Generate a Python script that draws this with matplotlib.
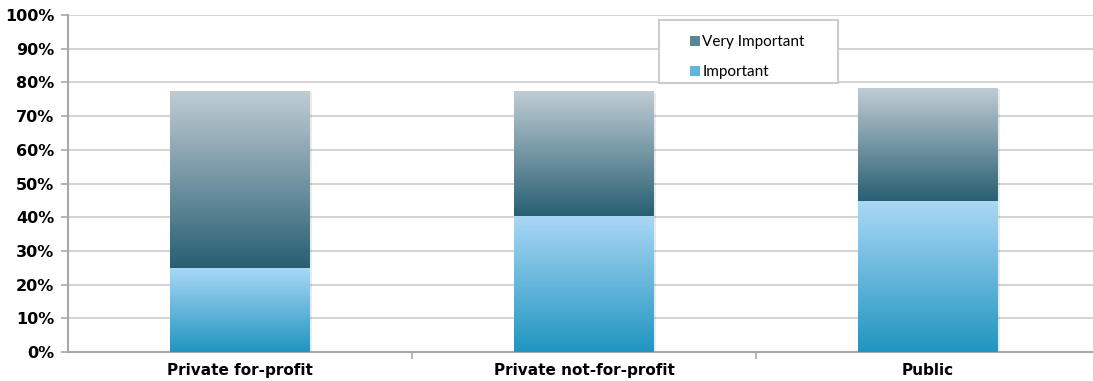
import numpy as np
import matplotlib
matplotlib.use('Agg')
import matplotlib.pyplot as plt
from matplotlib.patches import Patch, Rectangle
from matplotlib.colors import LinearSegmentedColormap

DPI = 100
W, H = 1093, 381

categories = ['Private for-profit', 'Private not-for-profit', 'Public']
important = [25.0, 40.4, 44.8]
very_important = [52.5, 36.8, 33.5]
yticks = list(range(0, 101, 10))

# bottom / top colours of each gradient
very_cmap = LinearSegmentedColormap.from_list('very', ['#285f72', '#c0ccd4'])
imp_cmap = LinearSegmentedColormap.from_list('imp', ['#2095c0', '#abd8f6'])


def grad_bar(ax, x, bottom, height, width, cmap):
    grad = np.linspace(0, 1, 256).reshape(-1, 1)
    ax.imshow(grad, cmap=cmap, aspect='auto', origin='lower',
              extent=[x - width / 2, x + width / 2, bottom, bottom + height],
              zorder=3, interpolation='bilinear')
    # faint drop shadow
    ax.add_patch(Rectangle((x - width / 2 + 0.006, bottom - 0.4), width, height,
                           facecolor='#000000', alpha=0.08, lw=0, zorder=2.5))


def fig_box(x0, y0, x1, y1):
    # pixel box (from top-left) -> figure fractions
    return x0 / W, 1 - y1 / H, (x1 - x0) / W, (y1 - y0) / H


def main():
    plt.rcParams['font.family'] = ['Lato', 'DejaVu Sans']
    fig = plt.figure(figsize=(W / DPI, H / DPI), dpi=DPI)
    ax = fig.add_axes(fig_box(68, 15, 1093, 352))

    x = np.arange(len(categories))
    width = 0.405
    for i in x:
        grad_bar(ax, i, 0, important[i], width, imp_cmap)
        grad_bar(ax, i, important[i], very_important[i], width, very_cmap)

    ax.set_xlim(-0.5, -0.5 + 1025 / 344)
    ax.set_ylim(0, 100)
    ax.set_yticks(yticks)
    ax.set_yticklabels(['%d%%' % t for t in yticks], fontsize=11.5,
                       fontweight='bold', family='DejaVu Sans')
    ax.yaxis.grid(True, color='#d4d4d4', lw=1.5, zorder=0)
    ax.set_axisbelow(True)

    ax.set_xticks(x)
    ax.set_xticklabels(categories, fontsize=11, fontweight='bold', family='DejaVu Sans')
    ax.set_xticks(x[:-1] + 0.5, minor=True)
    ax.tick_params(axis='x', which='major', length=0, pad=8)
    ax.tick_params(axis='x', which='minor', length=5, color='#a8a8a8', width=1.2)
    ax.tick_params(axis='y', length=5, color='#a8a8a8', width=1.2, pad=5)

    for s in ['top', 'right']:
        ax.spines[s].set_visible(False)
    for s in ['left', 'bottom']:
        ax.spines[s].set_color('#a8a8a8')
        ax.spines[s].set_linewidth(1.5)

    # legend frame
    fx, fy, fw, fh = fig_box(659, 20, 838, 83)
    fig.patches.append(Rectangle((fx, fy), fw, fh, transform=fig.transFigure,
                                 facecolor='white', edgecolor='#cccccc', lw=1.5,
                                 zorder=4))
    handles = [Patch(facecolor='#5a8594', edgecolor='none', label='Very Important'),
               Patch(facecolor='#5fb5dc', edgecolor='none', label='Important')]
    leg = fig.legend(handles=handles, loc='upper left',
                     bbox_to_anchor=(690 / W, 1 - 35 / H),
                     fontsize=11, frameon=False,
                     handlelength=0.65, handleheight=0.65, handletextpad=0.15,
                     labelspacing=1.05, borderpad=0, borderaxespad=0)
    leg.set_zorder(5)

    fig.savefig('out.png', dpi=DPI)


if __name__ == '__main__':
    main()
